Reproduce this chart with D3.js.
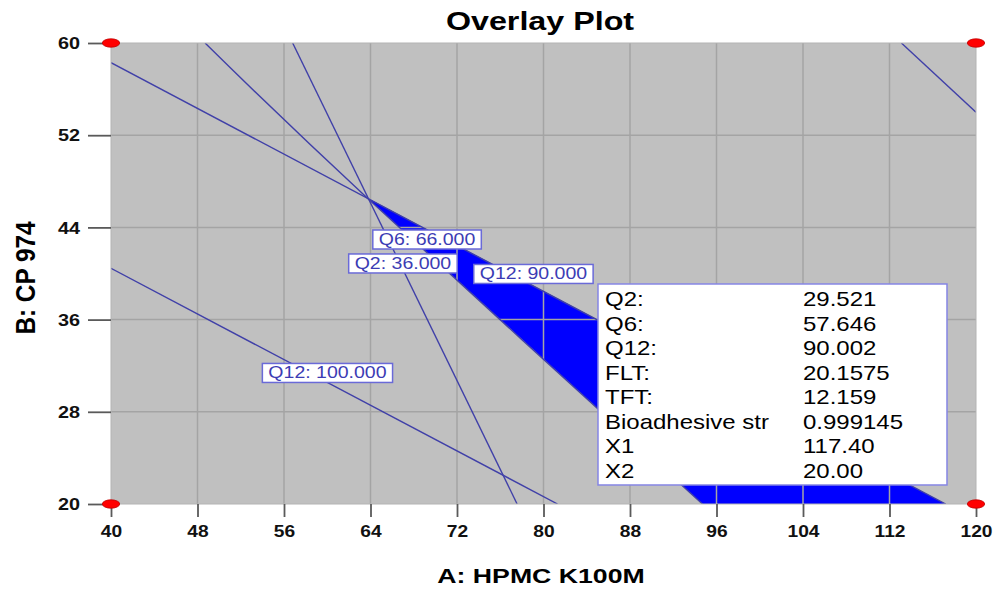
<!DOCTYPE html>
<html>
<head>
<meta charset="utf-8">
<script src="https://cdn.jsdelivr.net/npm/d3@7"></script>
<style>
  body { margin: 0; background: #fff; }
  svg { display: block; font-family: Arial, "Liberation Sans", sans-serif; }
</style>
</head>
<body>
<svg id="canvas" width="994" height="589"></svg>
<script>
// axis ticks (factor A: HPMC K100M, factor B: CP 974)
const xTicks = [40, 48, 56, 64, 72, 80, 88, 96, 104, 112, 120]
const yTicks = [20, 28, 36, 44, 52, 60]

// contour lines as [A, B] points
const q12_90 = [[40, 58.29], [117.2, 20]]
const q6_66 = [[48.7, 60], [63.65, 46.6], [94.7, 20]]
const q2_36 = [[56.8, 60], [77.56, 20]]
const q12_100 = [[40, 40.45], [81.3, 20]]
const topRight = [[113.1, 60], [120, 54.0]]

// feasible (overlay) region
const sweetSpot = [[63.65, 46.6], [117.2, 20], [94.7, 20]]

// design corner points
const corners = [[40, 60], [120, 60], [40, 20], [120, 20]]

// contour flags: [text, A, B]
const flags = [
  ["Q6: 66.000", 69.23, 42.95],
  ["Q2: 36.000", 67.0, 40.87],
  ["Q12: 90.000", 79.07, 39.96],
  ["Q12: 100.000", 60.02, 31.37]
]

// prediction box
const infoNames = ["Q2:", "Q6:", "Q12:", "FLT:", "TFT:", "Bioadhesive str", "X1", "X2"]
const infoValues = ["29.521", "57.646", "90.002", "20.1575", "12.159", "0.999145", "117.40", "20.00"]
const infoAt = [85.04, 39.09]

const svg = d3.select("#canvas")
const plotLeft = 111, plotRight = 976, plotTop = 43, plotBottom = 504

const x = d3.scaleLinear().domain([40, 120]).range([plotLeft, plotRight])
const y = d3.scaleLinear().domain([20, 60]).range([plotBottom, plotTop])

// stretched text, the original is drawn wide
const wideText = (parent, px, py, str, size, sx, opts = {}) => {
  const g = parent.append("g").attr("transform", `translate(${px},${py}) scale(${sx},1)`)
  return g.append("text")
    .attr("font-size", size)
    .attr("font-weight", opts.bold ? "bold" : "normal")
    .attr("text-anchor", opts.anchor || "start")
    .attr("fill", opts.fill || "#000")
    .text(str)
}

svg.append("defs").append("clipPath").attr("id", "plotclip")
  .append("rect").attr("x", plotLeft).attr("y", plotTop)
  .attr("width", plotRight - plotLeft).attr("height", plotBottom - plotTop)

// plot background
svg.append("rect")
  .attr("x", plotLeft).attr("y", plotTop)
  .attr("width", plotRight - plotLeft).attr("height", plotBottom - plotTop)
  .attr("fill", "#c0c0c0")

const plot = svg.append("g").attr("clip-path", "url(#plotclip)")

plot.append("path")
  .attr("d", d3.line().x(d => x(d[0])).y(d => y(d[1]))(sweetSpot) + "Z")
  .attr("fill", "#0000ff")

// grid
plot.selectAll(".vgrid")
  .data(xTicks.slice(1, -1))
  .enter().append("line")
  .attr("x1", d => x(d)).attr("x2", d => x(d))
  .attr("y1", plotTop).attr("y2", plotBottom)
  .attr("stroke", "#a4a4a4").attr("stroke-width", 1.5)
plot.selectAll(".hgrid")
  .data(yTicks.slice(1, -1))
  .enter().append("line")
  .attr("x1", plotLeft).attr("x2", plotRight)
  .attr("y1", d => y(d)).attr("y2", d => y(d))
  .attr("stroke", "#a4a4a4").attr("stroke-width", 1.5)

const contour = d3.line().x(d => x(d[0])).y(d => y(d[1])).curve(d3.curveCardinal)
plot.selectAll(".contour")
  .data([q12_90, q6_66, q2_36, q12_100, topRight])
  .enter().append("path")
  .attr("d", contour)
  .attr("fill", "none")
  .attr("stroke", "#4040a8")
  .attr("stroke-width", 1.4)

// border
svg.append("rect")
  .attr("x", plotLeft).attr("y", plotTop)
  .attr("width", plotRight - plotLeft).attr("height", plotBottom - plotTop)
  .attr("fill", "none").attr("stroke", "#b4b4b4").attr("stroke-width", 1)

// axes
const yAxis = svg.append("g")
  .attr("transform", `translate(${plotLeft},0)`)
  .call(d3.axisLeft(y).tickValues(yTicks).tickSize(23).tickPadding(8))
yAxis.select(".domain").remove()
yAxis.selectAll("line").attr("stroke", "#5a5a5a").attr("stroke-width", 1.8)
yAxis.selectAll("text")
  .attr("x", 0).attr("dy", "0.36em")
  .attr("transform", "translate(-31,0) scale(1.24,1)")
  .attr("font-size", 16).attr("font-weight", "bold")
  .attr("font-family", "Arial, 'Liberation Sans', sans-serif").attr("fill", "#111")

const xAxis = svg.append("g")
  .attr("transform", `translate(0,${plotBottom})`)
  .call(d3.axisBottom(x).tickValues(xTicks).tickSize(13).tickPadding(9))
xAxis.select(".domain").remove()
xAxis.selectAll("line").attr("stroke", "#5a5a5a").attr("stroke-width", 1.8)
xAxis.selectAll("text")
  .attr("y", 0)
  .attr("transform", "translate(0,22) scale(1.2,1)")
  .attr("font-size", 16).attr("font-weight", "bold")
  .attr("font-family", "Arial, 'Liberation Sans', sans-serif").attr("fill", "#111")

// titles
wideText(svg, 540, 30, "Overlay Plot", 25, 1.29, { bold: true, anchor: "middle" })
wideText(svg, 541, 583, "A: HPMC K100M", 21, 1.27, { bold: true, anchor: "middle" })
svg.append("g")
  .attr("transform", "translate(35,278) rotate(-90) scale(1.16,1.3)")
  .append("text")
  .attr("font-size", 21).attr("font-weight", "bold")
  .attr("text-anchor", "middle")
  .text("B: CP 974")

// contour flags
flags.forEach(([label, a, b]) => {
  const g = svg.append("g")
  const box = g.append("rect")
  const t = wideText(g, x(a), y(b) + 5.5, label, 16, 1.22, { anchor: "middle", fill: "#3c3cb4" })
  const w = t.node().getComputedTextLength() * 1.22 + 12
  box.attr("x", x(a) - w / 2).attr("y", y(b) - 9.5)
    .attr("width", w).attr("height", 19)
    .attr("fill", "#fff").attr("stroke", "#6a6ad8").attr("stroke-width", 1.5)
})

// design points
svg.selectAll(".corner")
  .data(corners)
  .enter().append("ellipse")
  .attr("cx", d => x(d[0])).attr("cy", d => y(d[1]))
  .attr("rx", 8.7).attr("ry", 4.2)
  .attr("fill", "#ff0000").attr("stroke", "#c00000").attr("stroke-width", 0.8)

// prediction box
const bx = x(infoAt[0]), by = y(infoAt[1])
const info = svg.append("g")
info.append("rect")
  .attr("x", bx).attr("y", by)
  .attr("width", 349).attr("height", 201)
  .attr("fill", "#fff").attr("stroke", "#8686e4").attr("stroke-width", 1.5)
infoNames.forEach((n, i) => {
  wideText(info, bx + 7, by + 22.5 + i * 24.5, n, 20, 1.2)
  wideText(info, bx + 205, by + 22.5 + i * 24.5, infoValues[i], 20, 1.2)
})
</script>
</body>
</html>
